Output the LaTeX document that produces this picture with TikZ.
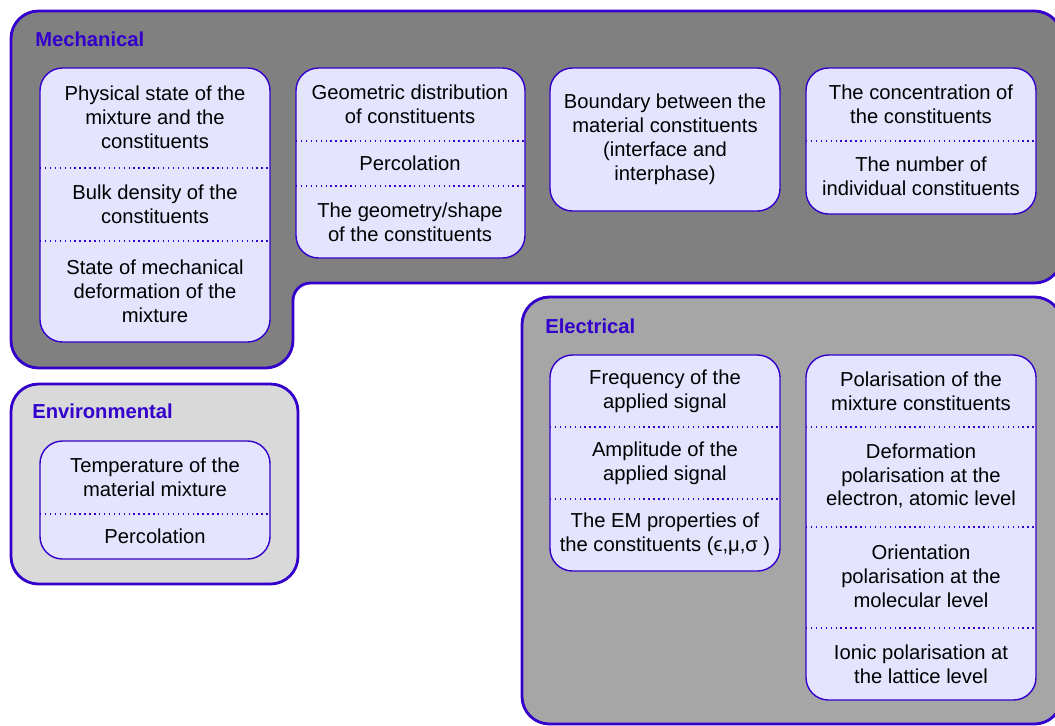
\documentclass[tikz,border=0pt]{standalone}
\usepackage{fontspec}
\setmainfont{Liberation Sans}
\definecolor{frameblue}{RGB}{51,0,204}
\definecolor{cellfill}{RGB}{228,228,255}
\definecolor{mechgray}{RGB}{128,128,128}
\definecolor{elecgray}{RGB}{166,166,166}
\definecolor{envgray}{RGB}{217,217,217}
\newcommand{\cellfont}{\fontsize{11.5}{13.6}\selectfont}
\newcommand{\titlefont}{\fontsize{11.5}{13.6}\selectfont\bfseries}
\tikzset{group/.style={draw=frameblue,line width=1.6pt,rounded corners=0.55cm},
  panel/.style={draw=frameblue,line width=0.8pt,fill=cellfill,rounded corners=0.45cm},
  divider/.style={draw=frameblue,dotted,line width=0.8pt},
  cell/.style={align=center,font=\cellfont,inner sep=0pt,text=black},
  grouptitle/.style={anchor=west,font=\titlefont,text=frameblue,inner sep=0pt}}

\begin{document}
\begin{tikzpicture}[x=0.02cm,y=-0.02cm]
\path[use as bounding box,clip] (0,0) rectangle (1055,725);

% groups
\draw[group,fill=mechgray] (11,368) -- (11,11) -- (1062,11) -- (1062,283)
  [rounded corners=0.35cm] -- (293,283) [rounded corners=0.55cm] -- (293,368) -- cycle;
\draw[group,fill=envgray] (11,384) rectangle (298,584);
\draw[group,fill=elecgray] (522,297) rectangle (1062,724);

\node[grouptitle] (mech) at (35,39) {Mechanical};
\node[grouptitle] (env) at (32,411) {Environmental};
\node[grouptitle] (elec) at (545,326) {Electrical};

% mechanical panels
\draw[panel] (40,68) rectangle (270,342);
\draw[divider] (40,168) -- (270,168);
\draw[divider] (40,241) -- (270,241);
\draw[panel] (296,68) rectangle (525,258);
\draw[divider] (296,141) -- (525,141);
\draw[divider] (296,186) -- (525,186);
\draw[panel] (550,68) rectangle (780,211);
\draw[panel] (806,68) rectangle (1036,214);
\draw[divider] (806,141) -- (1036,141);

\node[cell] (m1) at (155,117) {Physical state of the\\mixture and the\\constituents};
\node[cell] (m2) at (155,204) {Bulk density of the\\constituents};
\node[cell] (m3) at (155,291) {State of mechanical\\deformation of the\\mixture};
\node[cell] (m4) at (410,104) {Geometric distribution\\of constituents};
\node[cell] (m5) at (410,163) {Percolation};
\node[cell] (m6) at (410,222) {The geometry/shape\\of the constituents};
\node[cell] (m7) at (665,139) {Boundary between the\\material constituents\\(interface and\\interphase)};
\node[cell] (m8) at (921,104) {The concentration of\\the constituents};
\node[cell] (m9) at (921,176) {The number of\\individual constituents};

% environmental panel
\draw[panel] (40,441) rectangle (270,559);
\draw[divider] (40,514) -- (270,514);
\node[cell] (v1) at (155,477) {Temperature of the\\material mixture};
\node[cell] (v2) at (155,536) {Percolation};

% electrical panels
\draw[panel] (550,355) rectangle (780,571);
\draw[divider] (550,427) -- (780,427);
\draw[divider] (550,499) -- (780,499);
\draw[panel] (806,355) rectangle (1036,700);
\draw[divider] (806,427) -- (1036,427);
\draw[divider] (806,527) -- (1036,527);
\draw[divider] (806,628) -- (1036,628);

\node[cell] (e1) at (665,391) {Frequency of the\\applied signal};
\node[cell] (e2) at (665,463) {Amplitude of the\\applied signal};
\node[cell] (e3) at (665,534) {The EM properties of\\the constituents (ϵ,μ,σ )};
\node[cell] (e4) at (921,391) {Polarisation of the\\mixture constituents};
\node[cell] (e5) at (921,476) {Deformation\\polarisation at the\\electron, atomic level};
\node[cell] (e6) at (921,576) {Orientation\\polarisation at the\\molecular level};
\node[cell] (e7) at (921,664) {Ionic polarisation at\\the lattice level};

\end{tikzpicture}
\end{document}
